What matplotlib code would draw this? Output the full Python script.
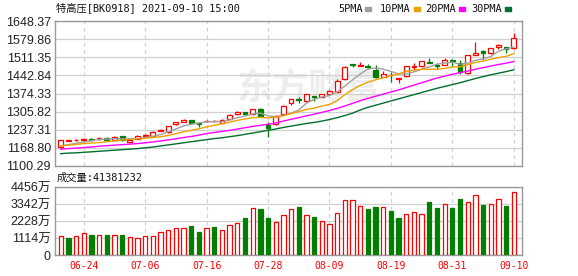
import matplotlib
matplotlib.use('Agg')
import matplotlib.pyplot as plt
from matplotlib.patches import Rectangle

plt.rcParams['font.family'] = ['Liberation Sans', 'Noto Sans CJK SC']
mono = ['DejaVu Sans Mono', 'Noto Sans CJK SC']

# --- data ---
dates = ['06-21', '06-22', '06-23', '06-24', '06-25', '06-28', '06-29', '06-30', '07-01', '07-02',
         '07-05', '07-06', '07-07', '07-08', '07-09', '07-12', '07-13', '07-14', '07-15', '07-16',
         '07-19', '07-20', '07-21', '07-22', '07-23', '07-26', '07-27', '07-28', '07-29', '07-30',
         '08-02', '08-03', '08-04', '08-05', '08-06', '08-09', '08-10', '08-11', '08-12', '08-13',
         '08-16', '08-17', '08-18', '08-19', '08-20', '08-23', '08-24', '08-25', '08-26', '08-27',
         '08-30', '08-31', '09-01', '09-02', '09-03', '09-06', '09-07', '09-08', '09-09', '09-10']
tick_dates = ['06-24', '07-06', '07-16', '07-28', '08-09', '08-19', '08-31', '09-10']

opens = [1172, 1195, 1198, 1198, 1202, 1201, 1208, 1200, 1213, 1192,
         1203, 1215, 1214, 1233, 1228, 1259, 1267, 1273, 1261, 1269,
         1269, 1262, 1279, 1295, 1304, 1296, 1315, 1257, 1258, 1295,
         1338, 1353, 1346, 1364, 1362, 1373, 1381, 1428, 1485, 1480,
         1479, 1465, 1437, 1445, 1430, 1440, 1476, 1477, 1492, 1482,
         1483, 1500, 1491, 1450, 1520, 1535, 1526, 1549, 1549, 1546]
highs = [1200, 1199, 1202, 1206, 1205, 1209, 1209, 1213, 1215, 1198,
         1217, 1223, 1232, 1239, 1252, 1267, 1278, 1275, 1262, 1275,
         1273, 1277, 1295, 1308, 1306, 1316, 1320, 1267, 1293, 1329,
         1354, 1362, 1374, 1366, 1374, 1387, 1428, 1477, 1486, 1493,
         1486, 1481, 1459, 1454, 1433, 1480, 1488, 1499, 1509, 1488,
         1510, 1504, 1501, 1520, 1570, 1539, 1547, 1563, 1551, 1604]
lows = [1168, 1193, 1196, 1196, 1196, 1199, 1195, 1199, 1196, 1186,
        1201, 1210, 1212, 1231, 1226, 1254, 1265, 1258, 1246, 1265,
        1267, 1261, 1277, 1294, 1296, 1294, 1286, 1210, 1256, 1293,
        1331, 1339, 1344, 1345, 1360, 1371, 1379, 1426, 1473, 1479,
        1468, 1432, 1435, 1419, 1413, 1438, 1465, 1475, 1489, 1468,
        1481, 1478, 1447, 1448, 1518, 1500, 1524, 1544, 1529, 1544]
closes = [1198, 1197, 1200, 1204, 1199, 1207, 1199, 1211, 1200, 1197,
          1215, 1218, 1230, 1237, 1250, 1265, 1276, 1264, 1259, 1271,
          1271, 1276, 1293, 1306, 1298, 1314, 1288, 1243, 1288, 1327,
          1352, 1350, 1372, 1360, 1372, 1382, 1420, 1475, 1483, 1482,
          1476, 1438, 1449, 1443, 1432, 1478, 1479, 1497, 1490, 1480,
          1500, 1498, 1457, 1518, 1526, 1526, 1545, 1556, 1541, 1583]

ma5 = [1176, 1181, 1186, 1191, 1196, 1201, 1202, 1204, 1203, 1203,
       1204, 1208, 1212, 1219, 1230, 1240, 1252, 1258, 1263, 1267,
       1268, 1268, 1274, 1283, 1289, 1297, 1300, 1290, 1286, 1292,
       1300, 1312, 1338, 1352, 1361, 1367, 1381, 1402, 1426, 1448,
       1467, 1471, 1466, 1458, 1448, 1448, 1456, 1466, 1475, 1485,
       1489, 1493, 1485, 1489, 1500, 1505, 1514, 1534, 1543, 1550]
ma10 = [1176, 1179, 1182, 1185, 1187, 1189, 1192, 1195, 1198, 1201,
        1203, 1205, 1208, 1211, 1216, 1222, 1230, 1235, 1241, 1248,
        1254, 1260, 1266, 1273, 1278, 1283, 1284, 1282, 1285, 1290,
        1298, 1306, 1314, 1319, 1327, 1333, 1347, 1370, 1389, 1405,
        1417, 1426, 1434, 1442, 1448, 1458, 1463, 1466, 1466, 1466,
        1469, 1475, 1475, 1483, 1492, 1497, 1504, 1510, 1515, 1525]
ma20 = [1164, 1166, 1168, 1170, 1172, 1175, 1177, 1179, 1181, 1183,
        1185, 1188, 1191, 1195, 1199, 1203, 1208, 1212, 1217, 1223,
        1227, 1231, 1235, 1240, 1245, 1250, 1254, 1258, 1263, 1270,
        1277, 1283, 1290, 1296, 1303, 1310, 1318, 1327, 1337, 1347,
        1356, 1364, 1372, 1380, 1388, 1397, 1406, 1415, 1424, 1433,
        1440, 1447, 1453, 1459, 1466, 1472, 1478, 1484, 1489, 1495]
ma30 = [1147, 1149, 1150, 1152, 1154, 1156, 1158, 1160, 1162, 1164,
        1166, 1169, 1172, 1176, 1180, 1184, 1188, 1192, 1196, 1200,
        1204, 1207, 1211, 1215, 1220, 1225, 1230, 1235, 1240, 1246,
        1251, 1256, 1261, 1265, 1270, 1276, 1283, 1291, 1300, 1312,
        1322, 1330, 1338, 1346, 1354, 1362, 1370, 1378, 1386, 1394,
        1401, 1408, 1415, 1423, 1431, 1438, 1445, 1451, 1457, 1464]

# volume in 万 (10k shares), colour as shown under each day
volume = [1239, 1109, 1239, 1413, 1304, 1304, 1304, 1304, 1304, 1174,
          1109, 1239, 1239, 1500, 1630, 1761, 1761, 1891, 1500, 1761,
          1826, 1630, 1935, 2087, 2435, 3065, 3022, 2435, 2152, 2609,
          3000, 3130, 2652, 2478, 2196, 2000, 2783, 3630, 3630, 3239,
          3000, 3130, 3174, 2870, 2435, 2717, 2848, 2717, 3457, 3065,
          3370, 3065, 3652, 3500, 3957, 3261, 3370, 3652, 3196, 4138]
vol_up = [1, 0, 1, 1, 0, 1, 0, 1, 0, 1,
          1, 1, 1, 1, 1, 1, 1, 0, 0, 1,
          0, 1, 1, 1, 0, 1, 0, 0, 1, 1,
          1, 0, 1, 0, 1, 1, 1, 1, 1, 1,
          0, 0, 1, 0, 0, 1, 1, 1, 0, 0,
          1, 0, 0, 1, 1, 0, 1, 1, 0, 1]

price_ticks = [1100.29, 1168.80, 1237.31, 1305.82, 1374.33, 1442.84, 1511.35, 1579.86, 1648.37]
vol_ticks = [0, 1114, 2228, 3342, 4456]
last_volume = '41381232'

RED = '#ff0000'
GREEN = '#007f00'
FRAME = '#999999'
GRID = '#d0d0d0'

W, H = 578, 276
fig = plt.figure(figsize=(W / 100, H / 100), dpi=100)
ax = fig.add_axes([55 / W, 1 - 166 / H, 467 / W, 145 / H])
axv = fig.add_axes([55 / W, 1 - 255 / H, 467 / W, 68 / H])

x = list(range(len(dates)))
tick_pos = [dates.index(d) for d in tick_dates]
xlim = (-0.74, 60.07)

# --- candles ---
ax.vlines(x, lows, highs, colors=[RED if c >= o else GREEN for o, c in zip(opens, closes)],
          linewidth=0.9, zorder=3)
bottoms = [min(o, c) for o, c in zip(opens, closes)]
heights = [max(abs(c - o), 0.6) for o, c in zip(opens, closes)]
ax.bar(x, heights, bottom=bottoms, width=0.62,
       color=['white' if c >= o else GREEN for o, c in zip(opens, closes)],
       edgecolor=[RED if c >= o else GREEN for o, c in zip(opens, closes)],
       linewidth=0.9, zorder=4)

ax.plot(x, ma5, color='#a0a0a0', lw=1.0, zorder=5)
ax.plot(x, ma10, color='#f0a000', lw=1.0, zorder=5)
ax.plot(x, ma20, color='#ff00ff', lw=1.0, zorder=5)
ax.plot(x, ma30, color='#006f2f', lw=1.0, zorder=5)

ax.text(0.545, 0.54, '东方财富', transform=ax.transAxes, ha='center', va='center',
        fontsize=26, color='#ededed', fontweight='bold', zorder=0,
        family=['Noto Sans CJK SC'])

ax.set_xlim(*xlim)
ax.set_ylim(price_ticks[0], price_ticks[-1])
ax.set_yticks(price_ticks)
ax.set_yticklabels(['%.2f' % v for v in price_ticks])
ax.set_xticks(tick_pos)
ax.set_xticklabels([])

# --- volume ---
axv.bar(x, volume, width=0.56,
        color=['white' if u else GREEN for u in vol_up],
        edgecolor=[RED if u else GREEN for u in vol_up],
        linewidth=0.9, zorder=3)
axv.set_xlim(*xlim)
axv.set_ylim(0, vol_ticks[-1])
axv.set_yticks(vol_ticks)
axv.set_yticklabels(['0'] + ['%d万' % v for v in vol_ticks[1:]])
axv.set_xticks(tick_pos)
axv.set_xticklabels(tick_dates, color=RED, fontsize=7, family=mono)

for a in (ax, axv):
    a.set_axisbelow(True)
    a.grid(axis='y', color=GRID, lw=0.9, linestyle='-')
    for p in tick_pos:
        a.axvline(p, color=GRID, lw=0.9, linestyle=(0, (3, 3)), zorder=1)
    for s in a.spines.values():
        s.set_color(FRAME)
        s.set_linewidth(1.0)
    a.tick_params(length=0, pad=3, labelsize=9, labelcolor='#222222')
axv.tick_params(axis='x', pad=4, labelcolor=RED, labelsize=7)

# --- header texts ---
fig.text(56 / W, 1 - 9 / H, '特高压[BK0918] 2021-09-10 15:00', fontsize=7.4,
         family=mono, va='center', ha='left', color='#111111')
fig.text(57 / W, 1 - 177.5 / H, '成交量:' + last_volume, fontsize=7.4,
         family=mono, va='center', ha='left', color='#111111')

legend = [('5PMA', '#a0a0a0', 338), ('10PMA', '#f0a000', 380),
          ('20PMA', '#ff00ff', 425.5), ('30PMA', '#006f2f', 471.5)]
for label, col, lx in legend:
    fig.text(lx / W, 1 - 9 / H, label, fontsize=7.4, family=mono,
             va='center', ha='left', color='#111111')
    bx = lx + len(label) * 6.1 + 3
    fig.patches.append(Rectangle((bx / W, 1 - 10.5 / H), 6 / W, 3 / H,
                                 transform=fig.transFigure, color=col))

fig.savefig('out.png', dpi=100)
